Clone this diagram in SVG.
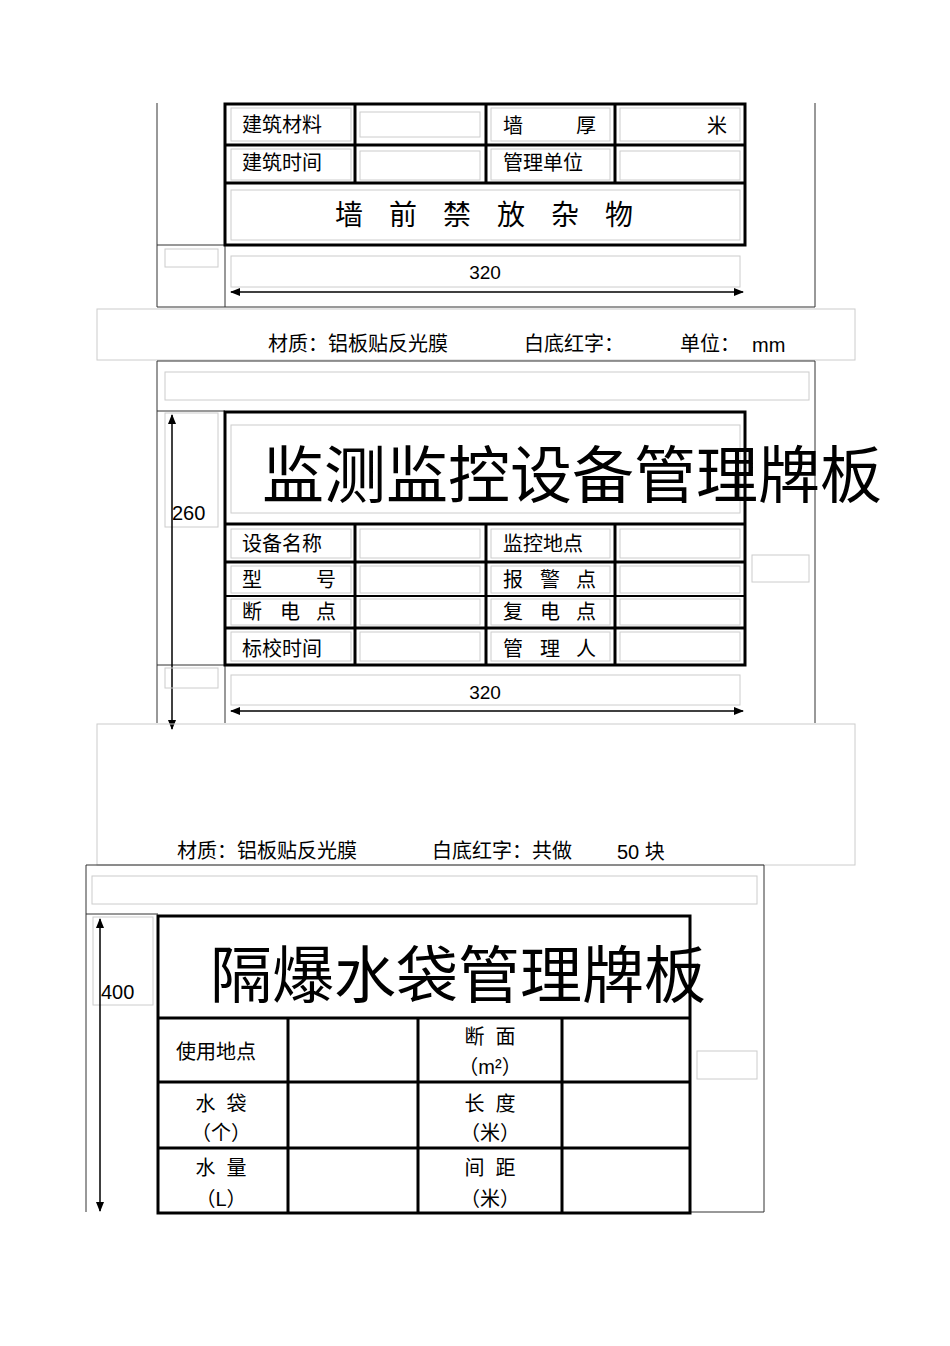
<svg xmlns="http://www.w3.org/2000/svg" width="950" height="1346" viewBox="0 0 950 1346">
<style>
.f{fill:none;stroke:#333;stroke-width:1}
.l{fill:none;stroke:#ccc;stroke-width:1}
.t{fill:none;stroke:#000;stroke-width:3}
.a{stroke:#000;stroke-width:1.5;fill:none}
text{font-family:"Liberation Sans","Noto Sans CJK SC",sans-serif;fill:#000;white-space:pre}
.c{font-size:20px}
.m{text-anchor:middle}
</style>
<defs>
<marker id="ah" markerWidth="10" markerHeight="8" refX="9" refY="4" orient="auto-start-reverse" markerUnits="userSpaceOnUse"><path d="M0,0L10,4L0,8z" fill="#000"/></marker>
</defs>
<rect width="950" height="1346" fill="#fff"/>

<g id="sign1">
<path class="f" d="M157,103V307H815V103M225,103V307"/>
<path class="f" d="M157,245H225"/>
<rect class="t" x="225" y="104" width="520" height="141"/>
<path class="t" d="M225,145H745M225,183H745M355,104V183M486,104V183M615,104V183"/>
<rect class="l" x="231" y="108" width="120" height="33"/><rect class="l" x="360" y="112" width="120" height="25"/>
<rect class="l" x="491" y="108" width="119" height="33"/><rect class="l" x="620" y="108" width="120" height="33"/>
<rect class="l" x="231" y="149" width="120" height="31"/><rect class="l" x="360" y="151" width="120" height="29"/>
<rect class="l" x="491" y="149" width="119" height="31"/><rect class="l" x="620" y="151" width="120" height="29"/>
<rect class="l" x="231" y="190" width="509" height="50"/>
<text class="c" x="242" y="132">建筑材料</text>
<text class="c" x="503" y="133">墙</text><text class="c" x="576" y="133">厚</text>
<text class="c" x="707" y="133">米</text>
<text class="c" x="242" y="170">建筑时间</text>
<text class="c" x="503" y="170">管理单位</text>
<text x="335" y="225" font-size="28" letter-spacing="26">墙前禁放杂物</text>
<rect class="l" x="165" y="249" width="53" height="18"/>
<rect class="l" x="231" y="256" width="509" height="31"/>
<text x="485" y="279" class="m" font-size="19">320</text>
<path class="a" d="M231,292H743" marker-start="url(#ah)" marker-end="url(#ah)"/>
</g>

<g id="caption1">
<rect class="l" x="97" y="309" width="758" height="51"/>
<text class="c" x="268" y="351">材质：铝板贴反光膜</text>
<text class="c" x="524" y="351">白底红字：</text>
<text class="c" x="680" y="351">单位：</text>
<text class="c" x="752" y="352">mm</text>
</g>

<g id="sign2">
<path class="f" d="M157,723V361H815V723M157,411H225M157,665H225M225,665V723"/>
<rect class="l" x="165" y="372" width="644" height="28"/>
<rect class="t" x="225" y="412" width="520" height="253"/>
<path class="t" d="M225,524H745M225,562H745M225,628H745M355,524V665M486,524V665M615,524V665"/>
<path d="M225,596H745" stroke="#000" stroke-width="2"/>
<rect class="l" x="231" y="425" width="509" height="88"/>
<rect class="l" x="165" y="413" width="53" height="114"/>
<rect class="l" x="752" y="555" width="57" height="27"/>
<text x="262" y="498" font-size="62">监测监控设备管理牌板</text>
<text class="c" x="242" y="551">设备名称</text><text class="c" x="503" y="551">监控地点</text>
<text class="c" x="242" y="587">型</text><text class="c" x="316" y="587">号</text>
<text class="c" x="503" y="587">报</text><text class="c" x="540" y="587">警</text><text class="c" x="576" y="587">点</text>
<text class="c" x="242" y="619">断</text><text class="c" x="280" y="619">电</text><text class="c" x="316" y="619">点</text>
<text class="c" x="503" y="619">复</text><text class="c" x="540" y="619">电</text><text class="c" x="576" y="619">点</text>
<text class="c" x="242" y="656">标校时间</text>
<text class="c" x="503" y="656">管</text><text class="c" x="540" y="656">理</text><text class="c" x="576" y="656">人</text>
<g class="l">
<rect x="231" y="529" width="120" height="29"/><rect x="360" y="529" width="120" height="29"/><rect x="491" y="529" width="119" height="29"/><rect x="620" y="529" width="120" height="29"/>
<rect x="231" y="566" width="120" height="27"/><rect x="360" y="566" width="120" height="27"/><rect x="491" y="566" width="119" height="27"/><rect x="620" y="566" width="120" height="27"/>
<rect x="231" y="599" width="120" height="26"/><rect x="360" y="599" width="120" height="26"/><rect x="491" y="599" width="119" height="26"/><rect x="620" y="599" width="120" height="26"/>
<rect x="231" y="632" width="120" height="29"/><rect x="360" y="632" width="120" height="29"/><rect x="491" y="632" width="119" height="29"/><rect x="620" y="632" width="120" height="29"/>
</g>
<text x="172" y="520" font-size="20">260</text>
<path class="a" d="M172,415V729" marker-start="url(#ah)" marker-end="url(#ah)"/>
<rect class="l" x="165" y="668" width="53" height="20"/>
<rect class="l" x="231" y="675" width="509" height="30"/>
<text x="485" y="699" class="m" font-size="19">320</text>
<path class="a" d="M231,711H743" marker-start="url(#ah)" marker-end="url(#ah)"/>
</g>

<g id="caption2">
<rect class="l" x="97" y="724" width="758" height="141"/>
<text class="c" x="177" y="858">材质：铝板贴反光膜</text>
<text class="c" x="432" y="858">白底红字：共做</text>
<text class="c" x="617" y="859">50 块</text>
</g>

<g id="sign3">
<path class="f" d="M86,1212V865H764V1212H690M86,914H158"/>
<rect class="l" x="92" y="876" width="665" height="28"/>
<rect class="l" x="93" y="917" width="60" height="88"/>
<rect class="l" x="697" y="1051" width="60" height="28"/>
<rect class="t" x="158" y="916" width="532" height="297"/>
<path class="t" d="M158,1018H690M158,1082H690M158,1148H690M288,1018V1213M418,1018V1213M562,1018V1213"/>
<text x="210" y="998" font-size="62">隔爆水袋管理牌板</text>
<text class="c" x="176" y="1059">使用地点</text>
<text class="c m" x="490" y="1044">断  面</text><text class="c m" x="490" y="1074">（m²）</text>
<text class="c m" x="221" y="1111">水  袋</text><text class="c m" x="221" y="1140">（个）</text>
<text class="c m" x="490" y="1111">长  度</text><text class="c m" x="490" y="1140">（米）</text>
<text class="c m" x="221" y="1175">水  量</text><text class="c m" x="221" y="1206">（L）</text>
<text class="c m" x="490" y="1175">间  距</text><text class="c m" x="490" y="1206">（米）</text>
<text x="101" y="999" font-size="20">400</text>
<path class="a" d="M100,919V1211" marker-start="url(#ah)" marker-end="url(#ah)"/>
</g>
</svg>
